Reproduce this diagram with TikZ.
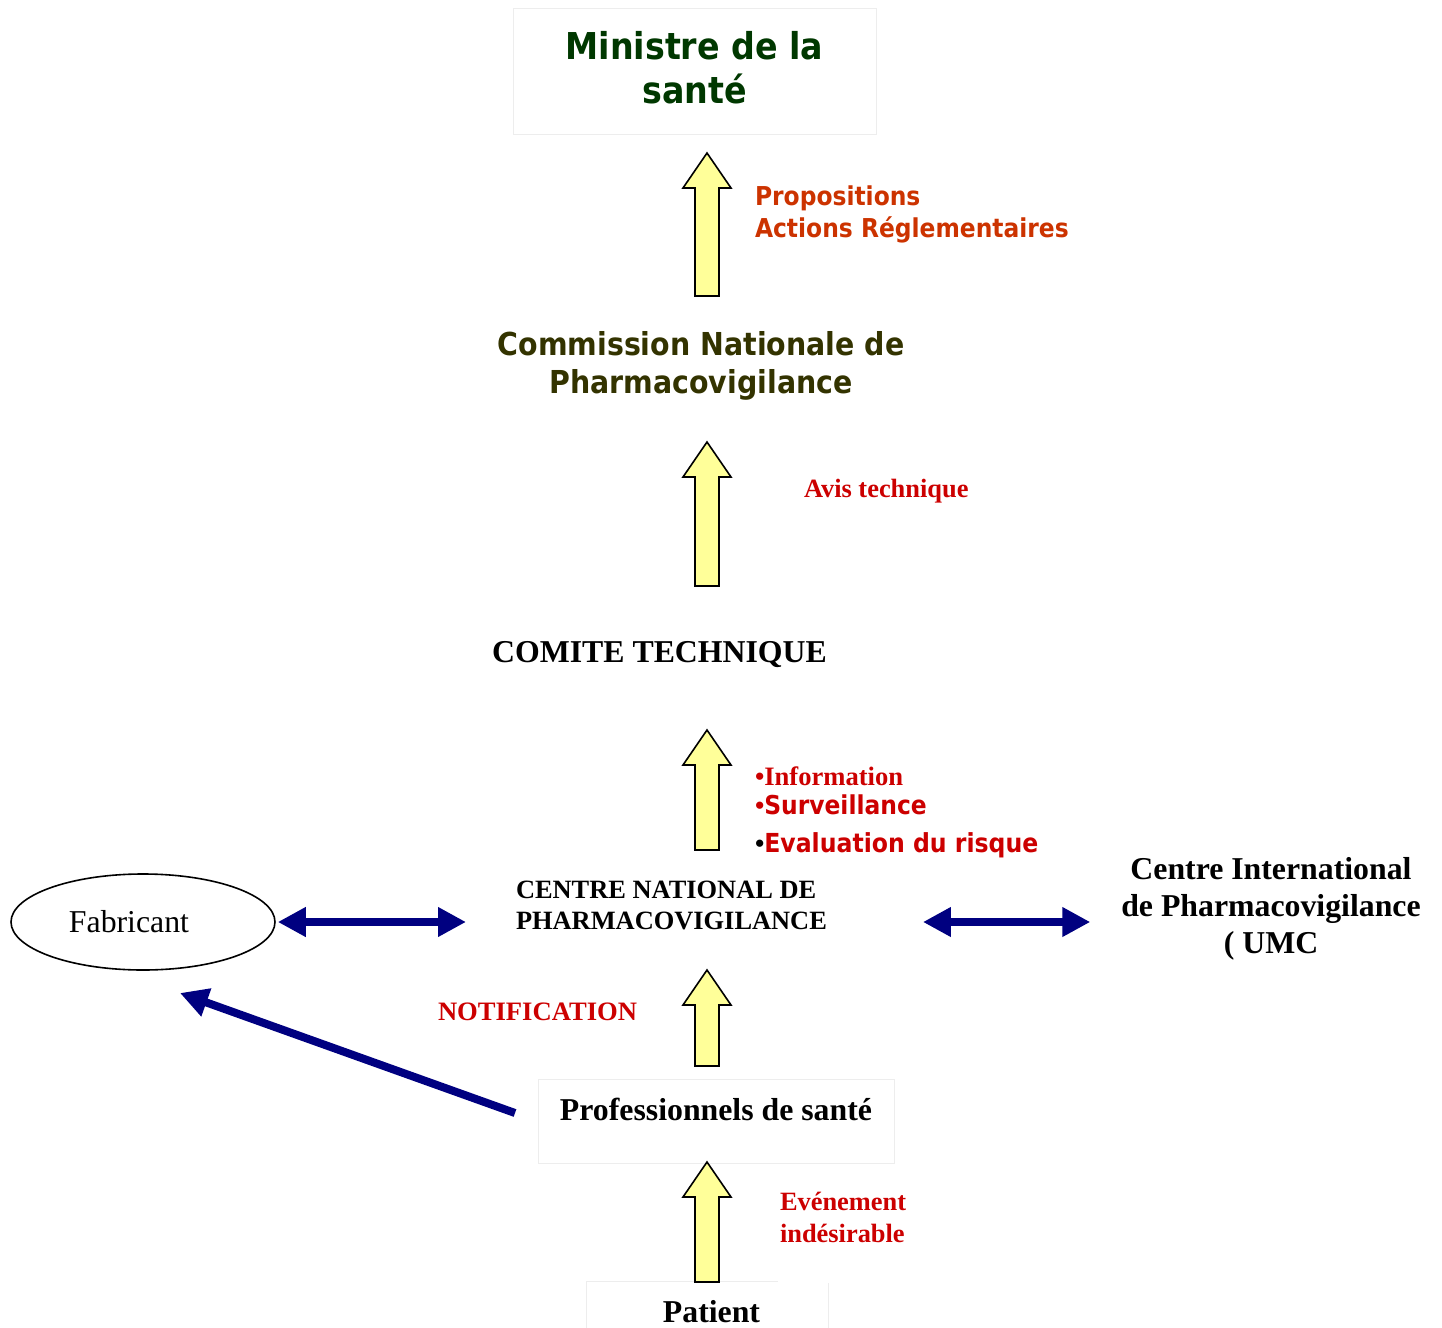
\documentclass[tikz,border=0pt]{standalone}
\usepackage{fontspec}
\setmainfont{Liberation Serif}
\newfontfamily\tahoma{DejaVu Sans}[FakeStretch=0.9]
\usetikzlibrary{arrows.meta,shapes.geometric}
\definecolor{vertfonce}{RGB}{0,56,0}
\definecolor{kaki}{RGB}{51,51,0}
\definecolor{orangebrique}{RGB}{204,51,0}
\definecolor{rougefonce}{RGB}{204,0,0}
\definecolor{bleumarine}{RGB}{0,0,128}
\definecolor{jaunepale}{RGB}{255,255,153}
\def\flechejaune(#1,#2,#3){\draw[fleche jaune] (#1-12,#3) -- (#1-12,#2+35) -- (#1-24,#2+35) -- (#1,#2) -- (#1+24,#2+35) -- (#1+12,#2+35) -- (#1+12,#3) -- cycle;}

\begin{document}
\begin{tikzpicture}[x=0.5pt,y=-0.5pt,
	boite/.style={draw=black!7, line width=0.5pt},
	texte/.style={inner sep=0pt, outer sep=0pt},
	fleche jaune/.style={draw=black, line width=0.8pt, fill=jaunepale, line join=miter},
	fleche bleue/.style={draw=bleumarine, line width=4pt, arrows={-Triangle[length=14pt,width=14pt]}},
	fleche bleue double/.style={draw=bleumarine, line width=4pt, arrows={Triangle[length=14pt,width=14pt]-Triangle[length=14pt,width=14pt]}}]
				\useasboundingbox (0,0) rectangle (1442,1328);
				
				\draw[boite] (513,8) rectangle (876,134);
				\draw[boite] (538,1079) rectangle (894,1163);
				\draw[boite] (778,1281) -- (586,1281) -- (586,1340);
				\draw[boite] (828,1283) -- (828,1340);
				
				% base = ligne du bas
				\node[texte, anchor=base, align=center, text=vertfonce, font=\tahoma\bfseries\fontsize{18.5}{22}\selectfont] (ministre) at (694.5,103) {Ministre de la\\santé};
				\node[texte, anchor=base, align=center, text=kaki, font=\tahoma\bfseries\fontsize{15.8}{19}\selectfont] (commission) at (701,393) {Commission Nationale de\\Pharmacovigilance};
				\node[texte, anchor=base, font=\bfseries\fontsize{15.9}{19}\selectfont] (comite) at (659.5,662) {COMITE TECHNIQUE};
				\node[texte, anchor=base west, align=left, font=\bfseries\fontsize{13.2}{15.5}\selectfont] (centre) at (516,929) {CENTRE NATIONAL DE\\PHARMACOVIGILANCE};
				\node[draw, ellipse, line width=0.8pt, minimum width=132pt, minimum height=48pt, inner sep=0pt, font=\fontsize{15.9}{19}\selectfont] (fabricant) at (143,922) {Fabricant\kern14pt};
				\node[texte, anchor=base, align=center, font=\bfseries\fontsize{15.9}{18.5}\selectfont] (umc) at (1271,953) {Centre International\\de Pharmacovigilance\\( UMC};
				\node[texte, anchor=base, font=\bfseries\fontsize{15.9}{19}\selectfont] (pros) at (716,1120) {Professionnels de santé};
				\node[texte, anchor=base, font=\bfseries\fontsize{15.9}{19}\selectfont] (patient) at (711.5,1322) {Patient};
				
				\node[texte, anchor=base west, align=left, text=orangebrique, font=\tahoma\bfseries\fontsize{13}{16}\selectfont] (propositions) at (755,237) {Propositions\\Actions Réglementaires};
				\node[texte, anchor=base west, text=rougefonce, font=\bfseries\fontsize{13.2}{16}\selectfont] (avis) at (804,497) {Avis technique};
				\node[texte, anchor=base west, text=rougefonce, font=\bfseries\fontsize{13.3}{16}\selectfont] (information) at (755,785) {•Information};
				\node[texte, anchor=base west, text=rougefonce, font=\bfseries\fontsize{13.3}{16}\selectfont] (surveillance) at (755,814) {•{\tahoma\fontsize{13}{16}\selectfont Surveillance}};
				\node[texte, anchor=base west, text=rougefonce, font=\bfseries\fontsize{13.3}{16}\selectfont] (evaluation) at (755,852) {\textcolor{black}{•}{\tahoma\fontsize{13.1}{16}\selectfont Evaluation du risque}};
				\node[texte, anchor=base west, text=rougefonce, font=\bfseries\fontsize{13.3}{16}\selectfont] (notification) at (438,1020) {NOTIFICATION};
				\node[texte, anchor=base west, align=left, text=rougefonce, font=\bfseries\fontsize{13.2}{16}\selectfont] (evenement) at (780,1242) {Evénement\\indésirable};
				
				\flechejaune(707,153,296)
				\flechejaune(707,442,586)
				\flechejaune(707,730,850)
				\flechejaune(707,970,1066)
				\flechejaune(707,1162,1282)
				
				\draw[fleche bleue double, shorten <=1pt, shorten >=25pt] (fabricant.east) -- (fabricant.east -| centre.west);
				\draw[fleche bleue double, shorten <=48pt, shorten >=15.5pt] (fabricant.east -| centre.east) -- (fabricant.east -| umc.west);
				\coordinate (depart notif) at (515,1113);
				\coordinate (arrivee notif) at (180,993);
				\draw[fleche bleue] (depart notif) -- (arrivee notif);
			\end{tikzpicture}
\end{document}
